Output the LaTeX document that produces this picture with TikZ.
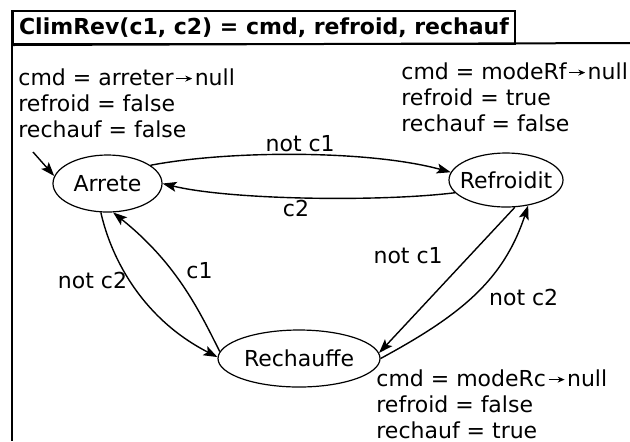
\documentclass[tikz,border=0pt]{standalone}
\usepackage{fontspec}
\setmainfont{DejaVu Sans}
\usetikzlibrary{arrows.meta, positioning, shapes.geometric}
\newcommand{\versnull}{\hspace{1pt}\tikz[baseline]\draw[-{Stealth[length=3.5pt, width=3pt]}, line width=0.5pt] (0pt,3.2pt) -- (8pt,3.2pt);\hspace{1pt}}

\begin{document}
\begin{tikzpicture}[x=0.5pt, y=0.5pt, >={Stealth[length=7pt, width=5pt, inset=1.5pt]},
  font=\fontsize{11}{13}\selectfont,
  etat/.style={ellipse, draw, line width=0.6pt, inner sep=0pt, minimum height=28.5pt},
  trans/.style={->, line width=0.7pt},
  garde/.style={inner sep=1pt},
  sortie/.style={align=left, anchor=base west, inner sep=0pt}]
  \useasboundingbox (0,0) rectangle (630,-441);
  % cadre et titre
  \node[draw, line width=1pt, anchor=north west, minimum width=251pt, minimum height=16.5pt,
    inner sep=0pt, font=\fontsize{11}{13}\selectfont\bfseries] (titre) at (12,-10)
    {ClimRev(c1, c2) = cmd, refroid, rechauf};
  \draw[line width=1pt] (titre.north west) -- (12,-441);
  \draw[line width=1pt] (titre.south west) -- (630,-43);

  % etats
  \node[etat, minimum width=54.5pt] (arrete) at (107.5,-183.5) {Arrete};
  \node[etat, minimum width=57pt, minimum height=27pt] (refroidit) at (506,-180) {\makebox[0pt]{Refroidit}};
  \node[etat, minimum width=81pt] (rechauffe) at (299,-358.5) {Rechauffe};

  % sorties (ancre sur la derniere ligne)
  \node[sortie] (sortieA) at (18,-137) {cmd = arreter\versnull null\\refroid = false\\rechauf = false};
  \node[sortie] (sortieRf) at (401,-131) {cmd = modeRf\versnull null\\refroid = true\\rechauf = false};
  \node[sortie] (sortieRc) at (376,-438) {cmd = modeRc\versnull null\\refroid = false\\rechauf = true};

  % transitions
  \coordinate (depart) at (33,-152);
  \draw[trans] (depart) -- (arrete.172);
  \draw[trans] (arrete.23) .. controls (230,-150) and (370,-150) .. (refroidit.172)
    node[garde, midway, above] {not c1};
  \draw[trans] (refroidit.194) .. controls (380,-202) and (230,-200) .. (arrete.east)
    node[garde, pos=0.53, below] {c2};
  \draw[trans] (arrete.257) .. controls (112,-262) and (145,-320) .. (rechauffe.179)
    node[garde, pos=0.44, left] {not c2};
  \draw[trans] (rechauffe.175) .. controls (197.7,-307.3) and (175.2,-262.3) .. (arrete.281)
    node[pos=0.6, right=4pt] {c1};
  \draw[trans] (refroidit.288) -- (rechauffe.4)
    node[pos=0.33, left=10pt] {not c1};
  \draw[trans] (rechauffe.east) .. controls (459.5,-315.7) and (503.3,-281.1) .. (refroidit.311)
    node[pos=0.48, right=5pt] {not c2};
\end{tikzpicture}
\end{document}
